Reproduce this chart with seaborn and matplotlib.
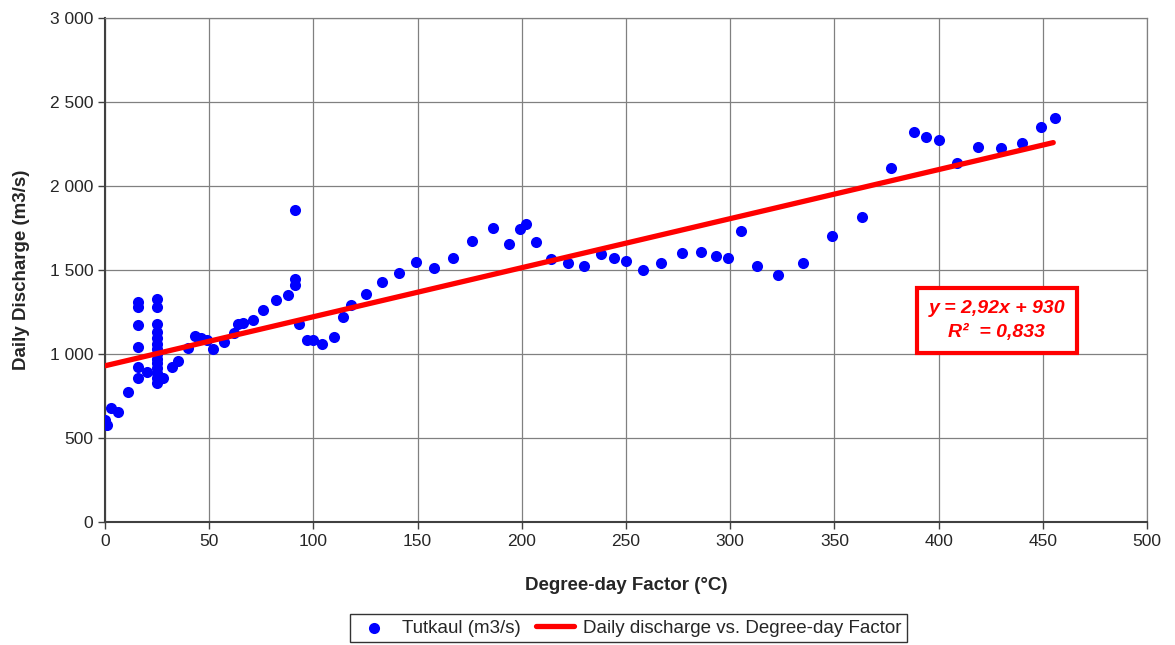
import matplotlib
matplotlib.use("Agg")
import matplotlib.pyplot as plt
import matplotlib.ticker as mticker
import seaborn as sns
import pandas as pd

# degree-day factor (°C) vs daily discharge (m3/s)
degree_day = [0, 1, 3, 6, 11,
              16, 16, 16, 16, 16, 16, 20,
              25, 25, 25, 25, 25, 25, 25, 25, 25, 25, 25, 25, 25, 25,
              28, 32, 35, 40, 43, 46, 49, 52, 57, 62, 64, 66, 71, 76, 82, 88,
              91, 91, 91, 93, 97, 100, 104, 110, 114, 118, 125, 133, 141, 149,
              158, 167, 176, 186, 194, 199, 202, 207, 214, 222, 230, 238, 244,
              250, 258, 267, 277, 286, 293, 299, 305, 313, 323, 335, 349, 363,
              377, 388, 394, 400, 409, 419, 430, 440, 449, 456]
discharge = [610, 575, 680, 655, 775,
             1310, 1280, 1170, 1040, 920, 855, 890,
             1330, 1280, 1180, 1130, 1095, 1060, 1030, 1000, 970, 945, 915, 885, 855, 830,
             855, 920, 960, 1035, 1110, 1095, 1085, 1030, 1070, 1125, 1180, 1185, 1200, 1260, 1320, 1350,
             1410, 1445, 1860, 1180, 1085, 1085, 1060, 1100, 1220, 1290, 1360, 1430, 1480, 1550,
             1510, 1570, 1670, 1750, 1655, 1745, 1775, 1665, 1565, 1540, 1525, 1595, 1570,
             1555, 1500, 1540, 1600, 1610, 1585, 1570, 1730, 1525, 1470, 1540, 1700, 1815,
             2110, 2320, 2290, 2275, 2135, 2230, 2225, 2255, 2350, 2405]

# trendline as given on the chart
slope = 2.92
intercept = 930
trend_x = [0, 455]
trend_y = [intercept + slope * v for v in trend_x]

x_ticks = [0, 50, 100, 150, 200, 250, 300, 350, 400, 450, 500]
y_ticks = [0, 500, 1000, 1500, 2000, 2500, 3000]

df = pd.DataFrame({"x": degree_day, "y": discharge})
trend = pd.DataFrame({"x": trend_x, "y": trend_y})

sns.set_style("white")
plt.rcParams['font.family'] = ['Liberation Sans', 'DejaVu Sans']

fig = plt.figure(figsize=(11.75, 6.45), dpi=100)
ax = fig.add_axes([0.0894, 0.1907, 0.8868, 0.7813])

sns.scatterplot(data=df, x="x", y="y", ax=ax, color="#0000ff", s=64,
                edgecolor="#0000ff", linewidth=0, label="Tutkaul (m3/s)", zorder=3)
sns.lineplot(data=trend, x="x", y="y", ax=ax, color="#ff0000", linewidth=3.8,
             label="Daily discharge vs. Degree-day Factor", zorder=4)

ax.set_xlim(0, 500)
ax.set_ylim(0, 3000)
ax.set_xticks(x_ticks)
ax.set_yticks(y_ticks)
ax.yaxis.set_major_formatter(mticker.FuncFormatter(lambda v, p: f"{int(v):,}".replace(",", " ")))
ax.grid(True, color="#808080", linewidth=0.9)
ax.tick_params(axis="both", labelsize=12.5, length=5, width=1, color="#404040",
               direction="out", bottom=True, left=True)
for side in ["top", "right"]:
    ax.spines[side].set_color("#808080")
    ax.spines[side].set_linewidth(0.9)
for side in ["left", "bottom"]:
    ax.spines[side].set_color("#404040")
    ax.spines[side].set_linewidth(1.5)

ax.set_xlabel("Degree-day Factor (°C)", fontsize=13.5, fontweight="bold", labelpad=20)
ax.set_ylabel("Daily Discharge (m3/s)", fontsize=13.5, fontweight="bold", labelpad=14)

ax.text(428, 1200, "y = 2,92x + 930\nR²  = 0,833", color="#ff0000", fontsize=14,
        fontweight="bold", fontstyle="italic", ha="center", va="center", linespacing=1.5,
        bbox=dict(boxstyle="square,pad=0.62", facecolor="white", edgecolor="#ff0000", linewidth=3),
        zorder=5)

handles, labels = ax.get_legend_handles_labels()
ax.get_legend().remove()
leg = fig.legend(handles, labels, loc="upper center", bbox_to_anchor=(0.535, 0.048), ncol=2,
                 fontsize=13.5, frameon=True, fancybox=False, edgecolor="#000000",
                 borderaxespad=0, handlelength=2.0, columnspacing=0.8, handletextpad=0.5,
                 borderpad=0.3)
leg.get_frame().set_linewidth(1)

fig.savefig("out.png", dpi=100)
